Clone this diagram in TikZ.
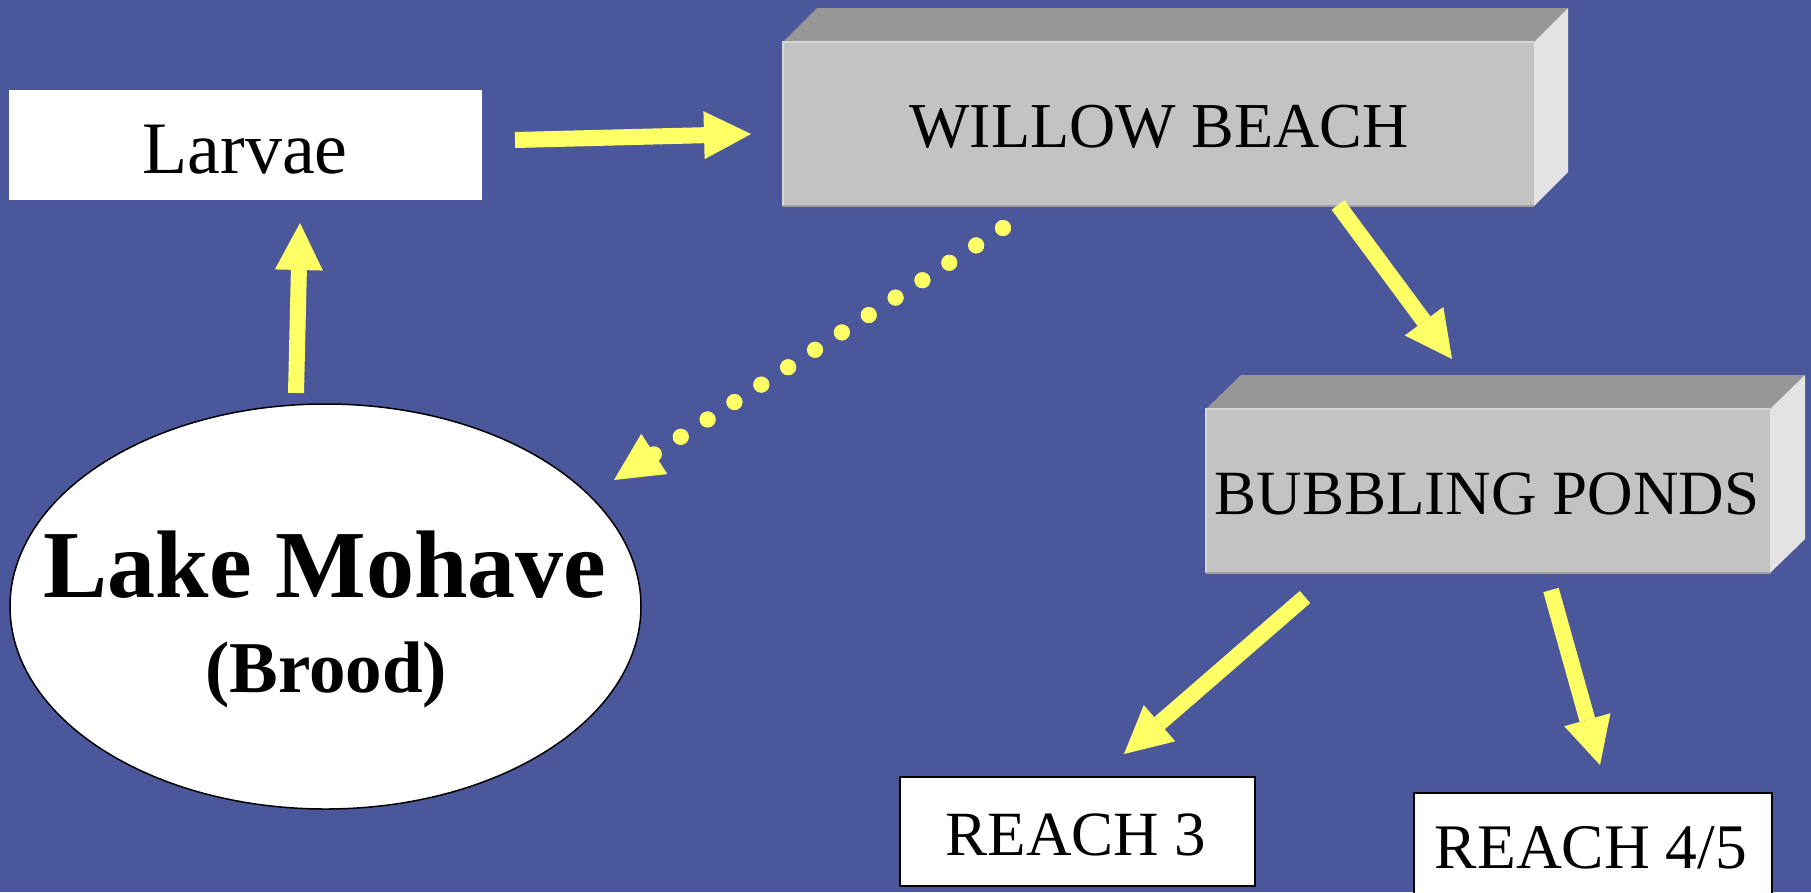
\documentclass[tikz,border=0pt]{standalone}
\usepackage{fontspec}
\setmainfont{Liberation Serif}
\usetikzlibrary{arrows.meta,shapes.geometric}
\definecolor{bg}{RGB}{74,88,155}
\definecolor{yarrow}{RGB}{255,255,102}
\definecolor{frontgray}{RGB}{195,195,195}
\definecolor{topgray}{RGB}{151,151,151}
\definecolor{sidegray}{RGB}{227,227,227}
\definecolor{edgelight}{RGB}{214,214,214}
\definecolor{edgedark}{RGB}{160,160,160}
\begin{document}
\begin{tikzpicture}[x=1pt,y=-1pt,
  shapebox/.style={rectangle,inner sep=0pt,outer sep=0pt},
  whitebox/.style={shapebox,fill=white},
  framedbox/.style={shapebox,fill=white,draw=black,line width=1.5pt},
  frontface/.style={shapebox,fill=frontgray},
  label/.style={anchor=base,inner sep=0pt},
  yarr/.style={draw=yarrow,line width=16pt,
    -{Triangle[length=47pt,width=48pt,line width=0pt,fill=yarrow,color=yarrow]}},
  ydotline/.style={draw=yarrow,line width=16pt,line cap=round,dash pattern=on 0pt off 32pt},
  ydots/.style={ydotline,
    -{Triangle[length=48pt,width=48pt,line width=0pt,fill=yarrow,color=yarrow]}}
]
\useasboundingbox (0,0) rectangle (1811,892);
\fill[bg] (0,0) rectangle (1811,892);

% Larvae
\node[whitebox,minimum width=473pt,minimum height=110pt] (larvae) at (245.5,145) {};
\node[label,font=\fontsize{74}{80}\selectfont] (larvaetxt) at (245,173) {Larvae};

% Willow Beach 3D box
\node[frontface,minimum width=751pt,minimum height=164pt] (willow) at (1158.5,124) {};
\fill[topgray] (willow.north west) -- ++(34,-34) -- ++(751,0) -- (willow.north east) -- cycle;
\fill[sidegray] (willow.north east) -- ++(34,-34) -- ++(0,164) -- (willow.south east) -- cycle;
\draw[edgelight,line width=2pt] (willow.south west) -- (willow.north west) -- (willow.north east);
\draw[edgedark,line width=2pt] (willow.south west) -- (willow.south east);
\node[label,font=\fontsize{64}{70}\selectfont] (willowtxt) at (1159,147) {WILLOW BEACH};

% Bubbling Ponds 3D box
\node[frontface,minimum width=564pt,minimum height=164pt] (bubbling) at (1488,491) {};
\fill[topgray] (bubbling.north west) -- ++(35,-34) -- ++(564,0) -- (bubbling.north east) -- cycle;
\fill[sidegray] (bubbling.north east) -- ++(35,-34) -- ++(0,164) -- (bubbling.south east) -- cycle;
\draw[edgelight,line width=2pt] (bubbling.south west) -- (bubbling.north west) -- (bubbling.north east);
\draw[edgedark,line width=2pt] (bubbling.south west) -- (bubbling.south east);
\node[label,font=\fontsize{63}{70}\selectfont] (bubblingtxt) at (1487,514) {BUBBLING PONDS};

% Lake Mohave
\node[ellipse,fill=white,draw=black,line width=1.5pt,inner sep=0pt,
      minimum width=631pt,minimum height=405pt] (lake) at (325.5,606.5) {};
\node[label,font=\fontsize{96}{100}\selectfont\bfseries] (laketxt) at (325,597) {Lake Mohave};
\node[label,font=\fontsize{73}{80}\selectfont\bfseries] (broodtxt) at (326,692) {(Brood)};

% Reach boxes
\node[framedbox,minimum width=355pt,minimum height=109pt] (reach3) at (1077.5,831.5) {};
\node[label,font=\fontsize{63}{70}\selectfont] (reach3txt) at (1076,855) {REACH 3};
\node[framedbox,minimum width=358pt,minimum height=112pt] (reach45) at (1593,849) {};
\node[label,font=\fontsize{63.5}{70}\selectfont] (reach45txt) at (1591,868) {REACH 4/5};

% connector end points
\coordinate (a1s) at (515,140);   \coordinate (a1e) at (751,134);
\coordinate (a2s) at (296,393);   \coordinate (a2e) at (300,223);
\coordinate (a3s) at (1338,205);  \coordinate (a3e) at (1452,359);
\coordinate (a4s) at (1305,597);  \coordinate (a4e) at (1124,754);
\coordinate (a5s) at (1551,590);  \coordinate (a5e) at (1600,765);
\coordinate (d1s) at (1003,228);  \coordinate (d1e) at (614,480);
\coordinate (d1m) at (642,462);

\draw[yarr] (a1s) -- (a1e);
\draw[yarr] (a2s) -- (a2e);
\draw[yarr] (a3s) -- (a3e);
\draw[yarr] (a4s) -- (a4e);
\draw[yarr] (a5s) -- (a5e);
\draw[ydotline] (d1s) -- (d1m);
\draw[ydots] (d1s) -- (d1e);
\end{tikzpicture}
\end{document}
